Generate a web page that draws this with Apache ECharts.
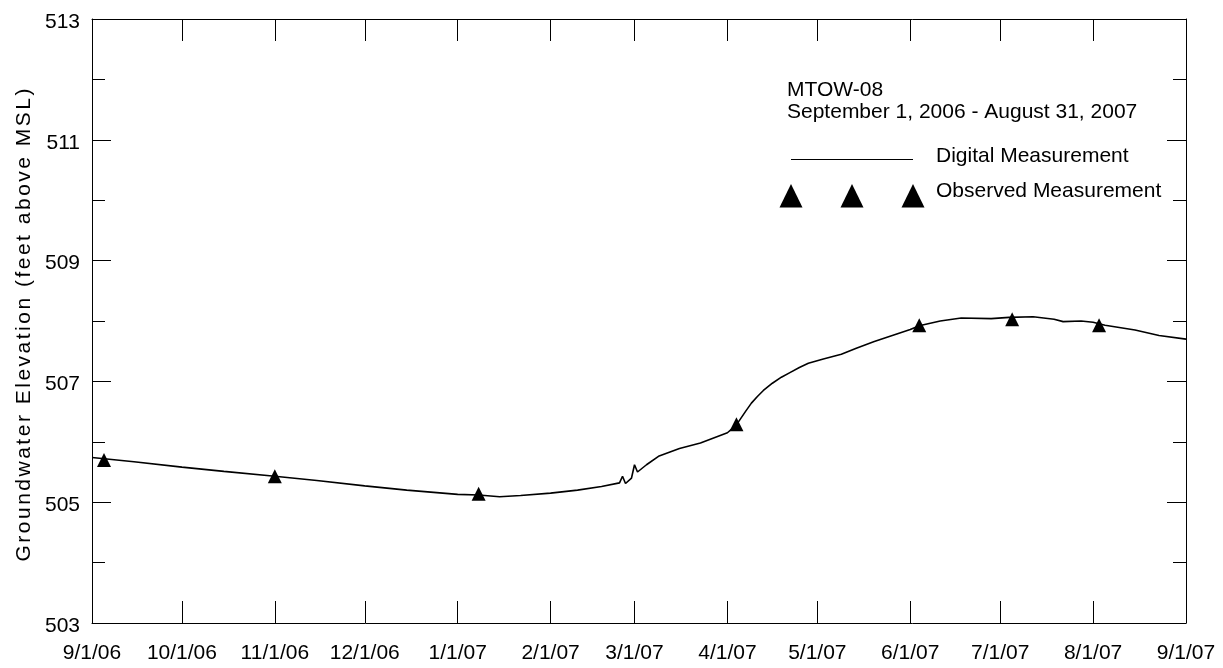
<!DOCTYPE html>
<html>
<head>
<meta charset="utf-8">
<title>MTOW-08 Groundwater Elevation</title>
<script src="https://cdn.jsdelivr.net/npm/echarts@6/dist/echarts.min.js"></script>
<style>
  html, body { margin: 0; padding: 0; background: #fff; }
  #chart { width: 1223px; height: 668px; }
</style>
</head>
<body>
<div id="chart"></div>
<script>
// Continuous logger record (feet above MSL)
const digitalDates = [
  '2006-09-01', '2006-09-15', '2006-10-01', '2006-10-15', '2006-11-01', '2006-11-15',
  '2006-12-01', '2006-12-15', '2007-01-01', '2007-01-08', '2007-01-15', '2007-01-22',
  '2007-02-01', '2007-02-10', '2007-02-18', '2007-02-24', '2007-02-25', '2007-02-26',
  '2007-02-28', '2007-03-01', '2007-03-02', '2007-03-05', '2007-03-09', '2007-03-16',
  '2007-03-23', '2007-04-01', '2007-04-04', '2007-04-07', '2007-04-09', '2007-04-11',
  '2007-04-13', '2007-04-16', '2007-04-19', '2007-04-22', '2007-04-25', '2007-04-28',
  '2007-05-03', '2007-05-09', '2007-05-14', '2007-05-20', '2007-05-26', '2007-06-01',
  '2007-06-04', '2007-06-11', '2007-06-18', '2007-06-28', '2007-07-04', '2007-07-12',
  '2007-07-19', '2007-07-22', '2007-07-28', '2007-08-01', '2007-08-05', '2007-08-15',
  '2007-08-23', '2007-09-01'
];
const digitalLevels = [
  505.74, 505.67, 505.58, 505.51, 505.43, 505.36,
  505.27, 505.20, 505.13, 505.12, 505.09, 505.11,
  505.15, 505.20, 505.26, 505.32, 505.43, 505.31,
  505.40, 505.62, 505.50, 505.62, 505.76, 505.89,
  505.98, 506.15, 506.28, 506.50, 506.64, 506.75,
  506.85, 506.97, 507.07, 507.15, 507.23, 507.30,
  507.37, 507.45, 507.55, 507.66, 507.76, 507.86,
  507.92, 508.00, 508.05, 508.04, 508.06, 508.07,
  508.03, 507.99, 508.00, 507.98, 507.93, 507.85,
  507.76, 507.70
];

// Manual (observed) measurements
const observedDates = [
  '2006-09-05', '2006-11-01', '2007-01-08', '2007-04-04',
  '2007-06-04', '2007-07-05', '2007-08-03'
];
const observedLevels = [505.70, 505.43, 505.14, 506.29, 507.93, 508.03, 507.93];

// Axis ticks
const monthTicks = [
  '2006-09-01', '2006-10-01', '2006-11-01', '2006-12-01', '2007-01-01', '2007-02-01',
  '2007-03-01', '2007-04-01', '2007-05-01', '2007-06-01', '2007-07-01', '2007-08-01',
  '2007-09-01'
];
const elevationLabels = [503, 505, 507, 509, 511, 513];

const wellName = 'MTOW-08';
const periodText = 'September 1, 2006 - August 31, 2007';
const yTitle = 'Groundwater Elevation (feet above MSL)';

function toTime(s) {
  const [y, m, d] = s.split('-').map(Number);
  return new Date(y, m - 1, d).getTime();
}
function fmtDate(v) {
  const d = new Date(v);
  return (d.getMonth() + 1) + '/' + d.getDate() + '/' + String(d.getFullYear()).slice(2);
}

const xMin = toTime(monthTicks[0]);
const xMax = toTime(monthTicks[monthTicks.length - 1]);
const monthTickTimes = monthTicks.map(toTime);
const FONT = 'Liberation Sans, Arial, Helvetica, sans-serif';

const chart = echarts.init(document.getElementById('chart'), null, { renderer: 'canvas' });

// dates are plotted on a linear millisecond scale, ticked on the first of each month
const baseX = {
  type: 'value', min: xMin, max: xMax, scale: true,
  axisLine: { show: true, onZero: false, lineStyle: { color: '#000', width: 1 } },
  axisTick: { show: true, inside: true, length: 22, customValues: monthTickTimes,
              lineStyle: { color: '#000', width: 1 } },
  splitLine: { show: false }
};
const baseY = {
  type: 'value', min: 503, max: 513, interval: 1,
  axisLine: { show: true, onZero: false, lineStyle: { color: '#000', width: 1 } },
  splitLine: { show: false }
};

// spaced-out characters for the vertical title
const titleRich = yTitle.split('').map(c => '{s|' + c + '}').join('');

chart.setOption({
  animation: false,
  backgroundColor: '#fff',
  grid: { left: 92, right: 37, top: 19, bottom: 45, containLabel: false },
  xAxis: [
    Object.assign({}, baseX, {
      position: 'bottom',
      axisLabel: {
        show: true, customValues: monthTickTimes, formatter: fmtDate,
        color: '#000', fontFamily: FONT, fontSize: 21, margin: 20, hideOverlap: false
      }
    }),
    Object.assign({}, baseX, { position: 'top', axisLabel: { show: false } })
  ],
  yAxis: [
    Object.assign({}, baseY, {
      position: 'left',
      axisTick: { show: true, inside: true, length: 13, lineStyle: { color: '#000', width: 1 } },
      axisLabel: {
        show: true, color: '#000', fontFamily: FONT, fontSize: 21, margin: 12,
        customValues: elevationLabels, formatter: v => '{v|' + v + '}',
        rich: { v: { fontFamily: FONT, fontSize: 21, color: '#000', padding: [6, 0, 0, 0] } }
      }
    }),
    Object.assign({}, baseY, {
      position: 'left',
      axisLine: { show: false },
      axisTick: { show: true, inside: true, length: 19, customValues: elevationLabels,
                  lineStyle: { color: '#000', width: 1 } },
      axisLabel: { show: false }
    }),
    Object.assign({}, baseY, {
      position: 'right',
      axisTick: { show: true, inside: true, length: 13, lineStyle: { color: '#000', width: 1 } },
      axisLabel: { show: false }
    }),
    Object.assign({}, baseY, {
      position: 'right',
      axisLine: { show: false },
      axisTick: { show: true, inside: true, length: 19, customValues: elevationLabels,
                  lineStyle: { color: '#000', width: 1 } },
      axisLabel: { show: false }
    })
  ],
  series: [
    {
      name: 'Digital Measurement',
      type: 'line',
      xAxisIndex: 0, yAxisIndex: 0,
      data: digitalDates.map((d, i) => [toTime(d), digitalLevels[i]]),
      showSymbol: false,
      smooth: false,
      lineStyle: { color: '#000', width: 1.6, opacity: 1 },
      z: 3
    },
    {
      name: 'Observed Measurement',
      type: 'scatter',
      xAxisIndex: 0, yAxisIndex: 0,
      data: observedDates.map((d, i) => [toTime(d), observedLevels[i]]),
      symbol: 'triangle',
      symbolSize: 14,
      itemStyle: { color: '#000', opacity: 1 },
      z: 4
    }
  ],
  graphic: [
    {
      type: 'text', x: 24, y: 325, rotation: Math.PI / 2,
      style: {
        text: titleRich, align: 'center', verticalAlign: 'middle',
        fill: '#000', font: '21px ' + FONT,
        rich: { s: { fontSize: 21, fontFamily: FONT, fill: '#000', padding: [0, 1.25, 0, 1.25] } }
      }
    },
    { type: 'text', x: 787, y: 90,
      style: { text: wellName, fill: '#000', font: '21px ' + FONT, verticalAlign: 'middle' } },
    { type: 'text', x: 787, y: 112,
      style: { text: periodText, fill: '#000', font: '21px ' + FONT, verticalAlign: 'middle' } },
    { type: 'line', shape: { x1: 791, y1: 159.5, x2: 913, y2: 159.5 },
      style: { stroke: '#000', lineWidth: 1 } },
    { type: 'text', x: 936, y: 156,
      style: { text: 'Digital Measurement', fill: '#000', font: '21px ' + FONT, verticalAlign: 'middle' } },
    { type: 'polygon', shape: { points: [[791, 184], [779.5, 207.5], [802.5, 207.5]] }, style: { fill: '#000' } },
    { type: 'polygon', shape: { points: [[852, 184], [840.5, 207.5], [863.5, 207.5]] }, style: { fill: '#000' } },
    { type: 'polygon', shape: { points: [[913, 184], [901.5, 207.5], [924.5, 207.5]] }, style: { fill: '#000' } },
    { type: 'text', x: 936, y: 191,
      style: { text: 'Observed Measurement', fill: '#000', font: '21px ' + FONT, verticalAlign: 'middle' } }
  ]
});
</script>
</body>
</html>
